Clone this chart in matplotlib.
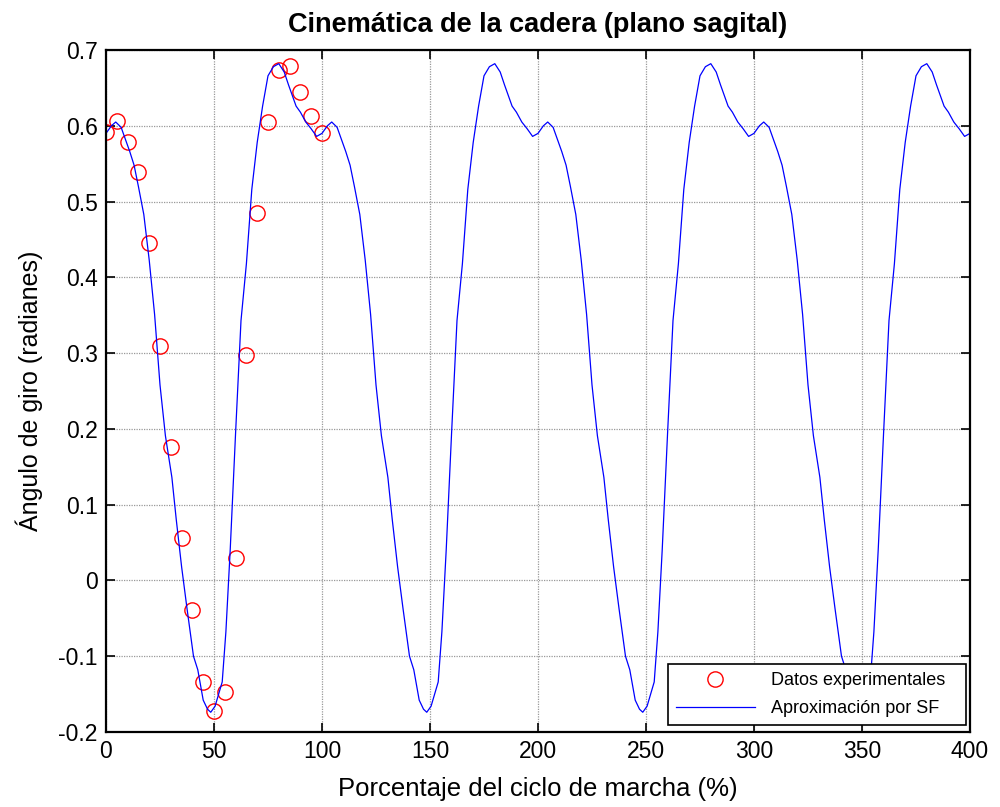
"""
Hip kinematics (sagittal plane): experimental samples over one gait cycle
plus the Fourier-series approximation repeated over four cycles.
"""

import numpy as np
import matplotlib
matplotlib.use("Agg")
import matplotlib.pyplot as plt

plt.rcParams["font.family"] = ["Liberation Sans", "DejaVu Sans"]

# Experimental data (one gait cycle, % of cycle vs radians)
exp_x = [0, 5, 10, 15, 20, 25, 30, 35, 40, 45, 50,
         55, 60, 65, 70, 75, 80, 85, 90, 95, 100]
exp_y = [0.592, 0.606, 0.579, 0.539, 0.445, 0.310, 0.176, 0.056, -0.039,
         -0.134, -0.173, -0.147, 0.029, 0.297, 0.485, 0.605, 0.674, 0.679,
         0.645, 0.613, 0.591]

# Fourier-series fit, one period
cycle_x = [0, 2.5, 4.5, 7, 9, 11, 13, 15, 17.5, 20, 22.5, 25, 27.5, 30.5,
           32.5, 35, 37.5, 40.5, 42.5, 45, 47, 48.5, 50.5, 53.8, 55.5, 57.5,
           60, 62.5, 65, 67.5, 70, 72.5, 75, 77.5, 80, 82.5, 84.5, 88, 90,
           92.5, 95, 97.5]
cycle_y = [0.590, 0.600, 0.605, 0.598, 0.582, 0.566, 0.548, 0.520, 0.483,
           0.423, 0.351, 0.258, 0.191, 0.136, 0.081, 0.018, -0.037, -0.100,
           -0.118, -0.158, -0.170, -0.174, -0.166, -0.134, -0.068, 0.040,
           0.195, 0.343, 0.418, 0.516, 0.578, 0.626, 0.666, 0.678, 0.682,
           0.671, 0.654, 0.626, 0.618, 0.605, 0.596, 0.586]
n_cycles = 4
period = 100

x_ticks = [0, 50, 100, 150, 200, 250, 300, 350, 400]
y_ticks = [-0.2, -0.1, 0, 0.1, 0.2, 0.3, 0.4, 0.5, 0.6, 0.7]
y_ticklabels = ["-0.2", "-0.1", "0", "0.1", "0.2", "0.3", "0.4", "0.5", "0.6", "0.7"]

sf_x = np.concatenate([np.array(cycle_x) + k * period for k in range(n_cycles)]
                      + [[n_cycles * period]])
sf_y = np.concatenate([cycle_y] * n_cycles + [[cycle_y[0]]])

fig = plt.figure(figsize=(10, 8.07), dpi=100)
ax = fig.add_axes([0.106, 0.093, 0.864, 0.845])

ax.plot(exp_x, exp_y, "o", markersize=11, markerfacecolor="none",
        markeredgecolor="#ff0000", markeredgewidth=1.0,
        label="Datos experimentales")
ax.plot(sf_x, sf_y, color="#0000ff", linewidth=0.9,
        label="Aproximación por SF")

ax.set_xlim(0, 400)
ax.set_ylim(-0.2, 0.7)
ax.set_xticks(x_ticks)
ax.set_yticks(y_ticks)
ax.set_yticklabels(y_ticklabels)
ax.tick_params(direction="in", length=6.5, width=1.2, labelsize=16.5,
               top=True, right=True, pad=6)
for spine in ax.spines.values():
    spine.set_linewidth(1.6)

ax.grid(True, color="#999999", linestyle=(0, (1, 1)), linewidth=0.9)
ax.set_axisbelow(True)

ax.set_title("Cinemática de la cadera (plano sagital)", fontsize=19.5,
             fontweight="bold", pad=13)
ax.set_xlabel("Porcentaje del ciclo de marcha (%)", fontsize=18.5)
ax.set_ylabel("Ángulo de giro (radianes)", fontsize=18)
ax.xaxis.set_label_coords(0.5, -0.066)
ax.yaxis.set_label_coords(-0.073, 0.5)

leg = ax.legend(loc="lower left", bbox_to_anchor=(0.65, 0.0098, 0.345, 0.1),
                mode="expand", fontsize=13, handlelength=4.4,
                handletextpad=0.9, labelspacing=0.6, borderpad=0.45,
                borderaxespad=0, fancybox=False, framealpha=1)
leg.get_frame().set_edgecolor("black")
leg.get_frame().set_linewidth(1.2)

fig.savefig("out.png", dpi=100)
